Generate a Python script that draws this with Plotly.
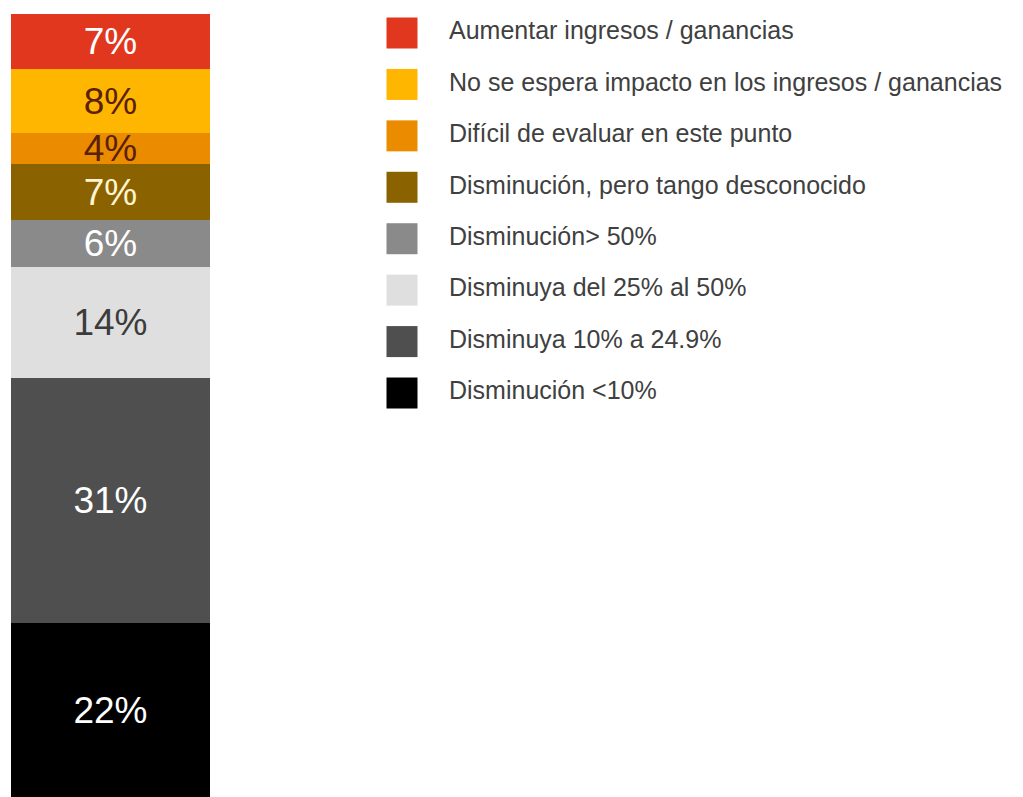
import plotly.graph_objects as go

# Data (bottom to top of the stacked bar)
categories = [
    "Disminución <10%",
    "Disminuya 10% a 24.9%",
    "Disminuya del 25% al 50%",
    "Disminución> 50%",
    "Disminución, pero tango desconocido",
    "Difícil de evaluar en este punto",
    "No se espera impacto en los ingresos / ganancias",
    "Aumentar ingresos / ganancias",
]
values = [22, 31, 14, 6, 7, 4, 8, 7]
colors = ["#000000", "#4f4f4f", "#dfdfdf", "#8a8a8a", "#8a6300", "#eb8c00", "#ffb600", "#e2371f"]
text_colors = ["#ffffff", "#ffffff", "#3c3c3c", "#ffffff", "#fff4d0", "#5a2008", "#5a2008", "#ffffff"]

fig = go.Figure()
for cat, v, c, tc in zip(categories, values, colors, text_colors):
    fig.add_trace(go.Bar(
        x=[0], y=[v], name=cat, marker=dict(color=c, line=dict(width=0)),
        text=[f"{v}%"], textposition="inside", insidetextanchor="middle",
        constraintext="none", textangle=0,
        textfont=dict(family="Liberation Sans, Arial", size=37, color=tc),
        showlegend=False, xaxis="x", yaxis="y", hoverinfo="skip",
    ))

# Custom legend (top to bottom order)
leg_labels = categories[::-1]
leg_colors = colors[::-1]
idx = list(range(len(leg_labels)))
fig.add_trace(go.Scatter(
    x=[402] * len(idx), y=idx, mode="markers",
    marker=dict(symbol="square", size=31, color=leg_colors, line=dict(width=0)),
    xaxis="x2", yaxis="y2", showlegend=False, hoverinfo="skip",
))
fig.add_trace(go.Scatter(
    x=[449] * len(idx), y=idx, mode="text", text=leg_labels,
    textposition="middle right",
    textfont=dict(family="Liberation Sans, Arial", size=25, color="#404040"),
    xaxis="x2", yaxis="y2", showlegend=False, hoverinfo="skip",
))

H = 797
top_px = 14
fig.update_layout(
    width=1023, height=797,
    margin=dict(l=0, r=0, t=0, b=0),
    paper_bgcolor="white", plot_bgcolor="rgba(0,0,0,0)",
    barmode="stack", bargap=0,
    xaxis=dict(domain=[11 / 1023, 210 / 1023], range=[-0.5, 0.5], visible=False, fixedrange=True),
    yaxis=dict(domain=[0, (H - top_px) / H], range=[0, sum(values)], visible=False, fixedrange=True),
    xaxis2=dict(domain=[0, 1], range=[0, 1023], visible=False, anchor="y2"),
    yaxis2=dict(domain=[0, 1], range=[(H - 33) / 51.43, -33 / 51.43], visible=False, anchor="x2"),
    showlegend=False,
)

fig.write_html("out.html")
